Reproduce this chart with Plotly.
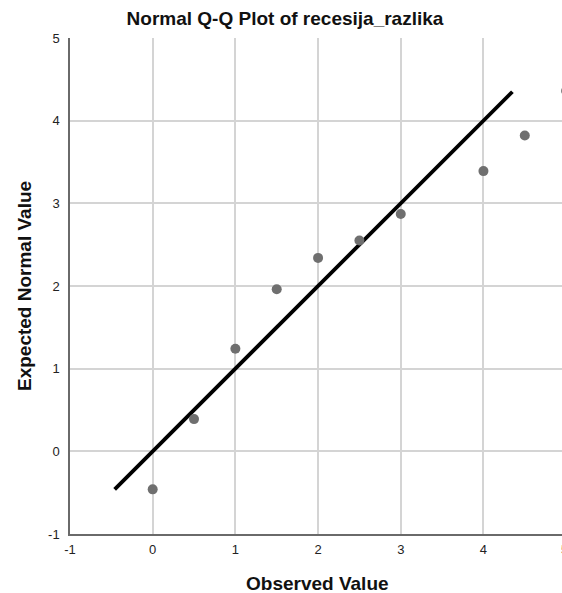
import plotly.graph_objects as go

observed = [0, 0.5, 1, 1.5, 2, 2.5, 3, 4, 4.5, 5]
expected = [-0.46, 0.39, 1.24, 1.96, 2.34, 2.55, 2.87, 3.39, 3.82, 4.36]
line_x = [-0.46, 4.35]
line_y = [-0.46, 4.35]
tick_vals = [-1, 0, 1, 2, 3, 4, 5]
tick_text = ["-1", "0", "1", "2", "3", "4", "5"]

FONT = "Arial, Liberation Sans, sans-serif"

W, H = 562, 593
L, T, B = 70, 38, 59

fig = go.Figure()
fig.add_trace(go.Scatter(x=line_x, y=line_y, mode="lines",
                         line=dict(color="black", width=3.8), hoverinfo="skip"))
fig.add_trace(go.Scatter(x=observed, y=expected, mode="markers",
                         marker=dict(color="#6f6f6f", size=10)))

x_range = [-1, 4.95]
fig.update_layout(
    width=W, height=H,
    margin=dict(l=L, r=0, t=T, b=B),
    paper_bgcolor="white", plot_bgcolor="white",
    showlegend=False,
    title=dict(text="<b>Normal Q-Q Plot of recesija_razlika</b>", x=285 / W, xanchor="center",
               y=1 - 18 / H, yanchor="middle",
               font=dict(family=FONT, size=19, color="#111")),
    xaxis=dict(range=x_range, tickvals=tick_vals, ticktext=tick_text,
               showgrid=True, gridcolor="#d4d4d4", gridwidth=1.5,
               showline=True, linecolor="#6a6a6a", linewidth=1.5,
               ticks="outside", ticklen=3, tickcolor="rgba(0,0,0,0)",
               zeroline=False, automargin=False,
               tickfont=dict(family=FONT, size=13, color="#222")),
    yaxis=dict(range=[-1, 5], tickvals=tick_vals, ticktext=tick_text,
               showgrid=True, gridcolor="#d4d4d4", gridwidth=1.5,
               showline=True, linecolor="#6a6a6a", linewidth=1.5,
               ticks="outside", ticklen=6, tickcolor="rgba(0,0,0,0)",
               zeroline=False, automargin=False,
               tickfont=dict(family=FONT, size=13, color="#222")),
)
# axis titles
fig.add_annotation(x=0.504, xref="paper", y=0, yref="paper", yshift=-49,
                   yanchor="middle", xanchor="center", showarrow=False,
                   text="<b>Observed Value</b>", font=dict(family=FONT, size=19, color="#111"))
fig.add_annotation(x=0, xref="paper", xshift=-46, y=0.5, yref="paper",
                   xanchor="center", yanchor="middle", textangle=-90, showarrow=False,
                   text="<b>Expected Normal Value</b>", font=dict(family=FONT, size=19, color="#111"))
# partially visible "5" tick label beyond the clipped right edge
fig.add_annotation(x=(5 - x_range[0]) / (x_range[1] - x_range[0]), xref="paper", xshift=4,
                   y=0, yref="paper", yshift=-6, yanchor="top", showarrow=False,
                   text="5", font=dict(family=FONT, size=13, color="#222"))

fig.write_html(
    "out.html",
    config={"displayModeBar": False},
    post_script="document.body.style.margin='0';document.body.style.overflow='hidden';",
)
